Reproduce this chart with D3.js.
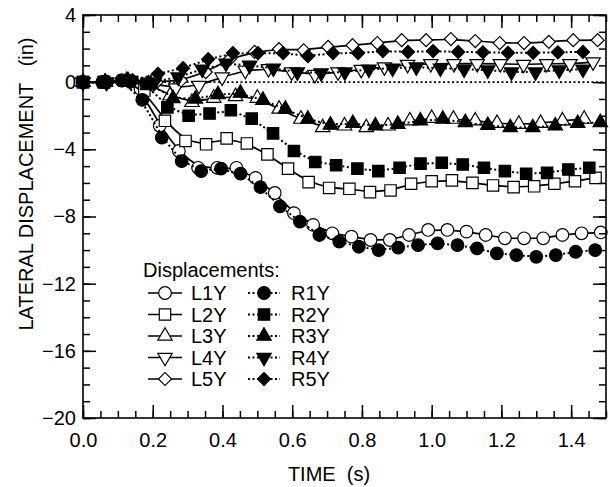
<!DOCTYPE html>
<html>
<head>
<meta charset="UTF-8" />
<title>lateral displacement</title>
<script src="https://d3js.org/d3.v7.min.js"></script>
<style>
  body { margin: 0; background: #fff; }
  text { font-family: "Liberation Sans", Arial, sans-serif; fill: #000; }
</style>
</head>
<body>
<svg id="chart" width="610" height="487"></svg>
<script>
// series: [time (s), lateral displacement (in)]
const L1Y = [[0,0],[0.055,0],[0.11,0.1],[0.165,-0.4],[0.22,-2.6],[0.275,-4.1],[0.33,-5.1],[0.385,-5.1],[0.44,-5.1],[0.495,-5.7],[0.55,-6.6],[0.605,-7.8],[0.66,-8.5],[0.715,-9.0],[0.77,-9.2],[0.825,-9.4],[0.88,-9.4],[0.935,-9.1],[0.99,-8.8],[1.045,-8.8],[1.1,-8.9],[1.155,-9.1],[1.21,-9.3],[1.265,-9.3],[1.32,-9.3],[1.375,-9.1],[1.43,-9.0],[1.485,-8.95]]
const L2Y = [[0,0],[0.059,0],[0.118,0.1],[0.176,-0.5],[0.235,-2.3],[0.294,-3.5],[0.353,-3.7],[0.412,-3.35],[0.47,-3.65],[0.529,-4.3],[0.588,-5.15],[0.647,-5.95],[0.706,-6.3],[0.764,-6.35],[0.823,-6.55],[0.882,-6.45],[0.941,-6.05],[1.0,-5.9],[1.058,-5.85],[1.117,-6.0],[1.176,-6.15],[1.235,-6.25],[1.294,-6.2],[1.352,-6.05],[1.411,-5.9],[1.47,-5.7]]
const L3Y = [[0,0],[0.0625,0],[0.125,0.1],[0.1875,-0.1],[0.25,-0.8],[0.3125,-1.2],[0.375,-0.95],[0.4375,-0.85],[0.5,-0.95],[0.5625,-1.6],[0.625,-2.2],[0.6875,-2.7],[0.75,-2.6],[0.8125,-2.7],[0.875,-2.6],[0.9375,-2.3],[1.0,-2.15],[1.0625,-2.2],[1.125,-2.3],[1.1875,-2.45],[1.25,-2.5],[1.3125,-2.45],[1.375,-2.3],[1.4375,-2.2]]
const L4Y = [[0,0],[0.0665,0],[0.133,0.1],[0.1995,-0.1],[0.266,-0.35],[0.3325,-0.2],[0.399,0.3],[0.4655,0.7],[0.532,0.8],[0.5985,0.6],[0.665,0.45],[0.7315,0.6],[0.798,0.75],[0.8645,0.9],[0.931,1.05],[0.9975,1.1],[1.064,1.1],[1.1305,1.1],[1.197,1.1],[1.2635,1.05],[1.33,1.1],[1.3965,1.1],[1.463,1.2]]
const L5Y = [[0,0],[0.07,0],[0.141,0.1],[0.211,0.0],[0.281,0.1],[0.352,0.6],[0.422,1.4],[0.492,1.8],[0.562,1.97],[0.633,1.9],[0.703,2.1],[0.773,2.2],[0.844,2.33],[0.914,2.5],[0.984,2.5],[1.055,2.57],[1.125,2.45],[1.195,2.33],[1.265,2.33],[1.336,2.4],[1.406,2.5],[1.476,2.5]]
const R1Y = [[0,0],[0.057,0],[0.113,0.1],[0.17,-1.05],[0.226,-3.3],[0.283,-4.7],[0.339,-5.3],[0.396,-5.15],[0.452,-5.45],[0.509,-6.25],[0.565,-7.4],[0.622,-8.3],[0.678,-9.1],[0.735,-9.5],[0.791,-9.8],[0.848,-10.0],[0.904,-9.85],[0.961,-9.7],[1.017,-9.6],[1.074,-9.7],[1.13,-9.9],[1.187,-10.2],[1.243,-10.3],[1.3,-10.4],[1.356,-10.3],[1.413,-10.1],[1.469,-10.0]]
const R2Y = [[0,0],[0.061,0],[0.121,0.1],[0.182,-0.1],[0.242,-1.5],[0.303,-2.0],[0.363,-1.87],[0.424,-1.67],[0.484,-2.17],[0.545,-3.05],[0.605,-4.1],[0.666,-4.75],[0.726,-4.95],[0.787,-5.15],[0.847,-5.3],[0.908,-5.1],[0.968,-4.85],[1.029,-4.8],[1.089,-4.9],[1.15,-5.1],[1.21,-5.3],[1.271,-5.45],[1.331,-5.4],[1.392,-5.2],[1.452,-5.1]]
const R3Y = [[0,0],[0.0645,0],[0.129,0.1],[0.1935,-0.1],[0.258,-0.97],[0.3225,-1.0],[0.387,-0.73],[0.4515,-0.65],[0.516,-1.07],[0.5805,-1.6],[0.645,-2.2],[0.7095,-2.55],[0.774,-2.45],[0.8385,-2.6],[0.903,-2.5],[0.9675,-2.3],[1.032,-2.2],[1.0965,-2.4],[1.161,-2.57],[1.2255,-2.7],[1.29,-2.7],[1.3545,-2.6],[1.419,-2.45],[1.4835,-2.4]]
const R4Y = [[0,0],[0.068,0],[0.137,0.1],[0.205,0.0],[0.273,0.3],[0.342,0.77],[0.41,1.13],[0.478,1.0],[0.546,0.83],[0.615,0.6],[0.683,0.55],[0.751,0.6],[0.82,0.77],[0.888,0.83],[0.956,0.9],[1.025,0.83],[1.093,0.77],[1.161,0.72],[1.229,0.6],[1.298,0.6],[1.366,0.72],[1.434,0.77]]
const R5Y = [[0,0],[0.072,0],[0.143,0.1],[0.215,0.5],[0.287,0.83],[0.359,1.37],[0.43,1.73],[0.502,1.73],[0.574,1.73],[0.645,1.55],[0.717,1.73],[0.789,1.73],[0.86,1.85],[0.932,1.8],[1.004,1.85],[1.076,1.8],[1.147,1.78],[1.219,1.75],[1.291,1.75],[1.362,1.78],[1.434,1.8]]

const seriesNames = ["L1Y","L2Y","L3Y","L4Y","L5Y","R1Y","R2Y","R3Y","R4Y","R5Y"]
const seriesData = [L1Y,L2Y,L3Y,L4Y,L5Y,R1Y,R2Y,R3Y,R4Y,R5Y]
const xMajorTicks = [0.0,0.2,0.4,0.6,0.8,1.0,1.2,1.4]
const yMajorTicks = [-20,-16,-12,-8,-4,0,4]

// plot box
const pL = 83, pR = 606, pT = 15, pB = 418
const fs = "20px"

const svg = d3.select("#chart")
const x = d3.scaleLinear().domain([0,1.5]).range([pL,pR])
const y = d3.scaleLinear().domain([-20,4]).range([pB,pT])

// marker shapes: circle, square, up tri, down tri, diamond
const shapes = [
  {type: d3.symbolCircle, size: 125, rot: 0},
  {type: d3.symbolSquare, size: 130, rot: 0},
  {type: d3.symbolTriangle, size: 90, rot: 0},
  {type: d3.symbolTriangle, size: 90, rot: 180},
  {type: d3.symbolSquare, size: 85, rot: 45}
]

// zero reference line
svg.append("line")
  .attr("x1", pL).attr("x2", pR)
  .attr("y1", y(0)).attr("y2", y(0))
  .attr("stroke", "#000").attr("stroke-width", 1.8)
  .attr("stroke-dasharray", "2,2.5")

svg.append("clipPath").attr("id","clip")
  .append("rect").attr("x",pL).attr("y",pT).attr("width",pR-pL).attr("height",pB-pT)

const line = d3.line()
  .x(d=>x(d[0])).y(d=>y(d[1]))
  .curve(d3.curveBasis)

const plot = svg.append("g")

seriesData.forEach((data,i)=>{
  const isR = i >= 5
  const sh = shapes[i%5]
  const g = plot.append("g").attr("class","series")
  g.append("path")
    .attr("clip-path","url(#clip)")
    .attr("d", line(data))
    .attr("fill","none")
    .attr("stroke","#000")
    .attr("stroke-width", isR ? 2 : 1.7)
    .attr("stroke-dasharray", isR ? "2,2.5" : null)
  g.selectAll("path.mk")
    .data(data)
    .join("path")
    .attr("class","mk")
    .attr("d", d3.symbol().type(sh.type).size(sh.size))
    .attr("transform", d=>`translate(${x(d[0])},${y(d[1])}) rotate(${sh.rot})`)
    .attr("fill", isR ? "#000" : "#fff")
    .attr("stroke","#000")
    .attr("stroke-width", 1.2)
})

// axes, ticks pointing inward
const fmt = d3.format(".1f")
svg.append("g").attr("transform",`translate(0,${pB})`)
  .call(d3.axisBottom(x).tickValues(x.ticks(30)).tickSize(-7).tickFormat(""))
svg.append("g").attr("transform",`translate(0,${pB})`)
  .call(d3.axisBottom(x).tickValues(xMajorTicks).tickSize(-13).tickPadding(15).tickFormat(fmt))
svg.append("g").attr("transform",`translate(0,${pT})`)
  .call(d3.axisTop(x).tickValues(x.ticks(30)).tickSize(-7).tickFormat(""))
svg.append("g").attr("transform",`translate(0,${pT})`)
  .call(d3.axisTop(x).tickValues(xMajorTicks).tickSize(-13).tickFormat(""))

svg.append("g").attr("transform",`translate(${pL},0)`)
  .call(d3.axisLeft(y).ticks(24).tickSize(-7).tickFormat(""))
svg.append("g").attr("transform",`translate(${pL},0)`)
  .call(d3.axisLeft(y).tickValues(yMajorTicks).tickSize(-13).tickPadding(7))
svg.append("g").attr("transform",`translate(${pR},0)`)
  .call(d3.axisRight(y).ticks(24).tickSize(-7).tickFormat(""))
svg.append("g").attr("transform",`translate(${pR},0)`)
  .call(d3.axisRight(y).tickValues(yMajorTicks).tickSize(-13).tickFormat(""))

svg.selectAll(".domain").remove()
svg.selectAll(".tick line").attr("stroke","#000").attr("stroke-width",1.5)
svg.selectAll(".tick text").style("font-size",fs).style("font-family","Liberation Sans, Arial, sans-serif")

svg.append("rect")
  .attr("x",pL).attr("y",pT).attr("width",pR-pL).attr("height",pB-pT)
  .attr("fill","none").attr("stroke","#000").attr("stroke-width",1.6)

// axis titles
svg.append("text")
  .attr("x", 329).attr("y", 481)
  .attr("text-anchor","middle")
  .style("font-size",fs).style("white-space","pre")
  .text("TIME  (s)")
svg.append("text")
  .attr("transform","translate(33,184) rotate(-90)")
  .attr("text-anchor","middle")
  .style("font-size",fs).style("white-space","pre")
  .text("LATERAL DISPLACEMENT   (in)")

// legend
const legend = svg.append("g")
legend.append("text").attr("x",143).attr("y",277).style("font-size",fs).text("Displacements:")
const rowY = d3.range(5).map(k=>293 + k*21.5)
seriesNames.forEach((name,i)=>{
  const isR = i >= 5
  const sh = shapes[i%5]
  const cy = rowY[i%5]
  const x0 = isR ? 248 : 148, x1 = isR ? 280 : 182, tx = isR ? 291 : 191
  legend.append("line")
    .attr("x1",x0).attr("x2",x1).attr("y1",cy).attr("y2",cy)
    .attr("stroke","#000").attr("stroke-width", isR ? 2 : 1.7)
    .attr("stroke-dasharray", isR ? "2,2.5" : null)
  legend.append("path")
    .attr("d", d3.symbol().type(sh.type).size(sh.size))
    .attr("transform",`translate(${(x0+x1)/2},${cy}) rotate(${sh.rot})`)
    .attr("fill", isR ? "#000" : "#fff").attr("stroke","#000").attr("stroke-width",1.2)
  legend.append("text").attr("x",tx).attr("y",cy+7).style("font-size",fs).text(name)
})
</script>
</body>
</html>
